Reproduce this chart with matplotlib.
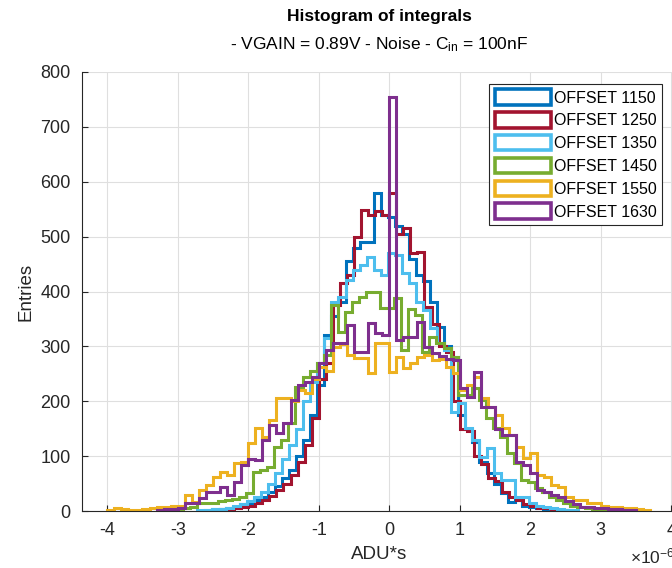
import numpy as np
import matplotlib.pyplot as plt

plt.rcParams['font.family'] = ['Liberation Sans', 'DejaVu Sans']
plt.rcParams['mathtext.fontset'] = 'custom'
plt.rcParams['mathtext.rm'] = 'Liberation Sans'
plt.rcParams['mathtext.it'] = 'Liberation Sans'
plt.rcParams['axes.unicode_minus'] = False

# bin width of every histogram [x1e-6 ADU*s]
bin_w = 0.1

labels = ["OFFSET 1150", "OFFSET 1250", "OFFSET 1350",
          "OFFSET 1450", "OFFSET 1550", "OFFSET 1630"]
colors = ["#0072BD", "#A2142F", "#4DBEEE", "#77AC30", "#EDB120", "#7E2F8E"]

# left edge of first bin per series
starts = [-2.62, -2.5, -2.72, -3.03, -4.0, -3.3]

counts_1150 = [2, 3, 4, 6, 8, 12, 15, 20, 25, 35, 45, 60, 75, 100, 130, 175,
               230, 320, 355, 380, 455, 480, 490, 490, 580, 540, 535, 520,
               505, 460, 430, 420, 380, 335, 300, 280, 175, 150, 125, 90, 70,
               50, 33, 16, 20, 10, 8, 5, 4, 2, 2, 1]
counts_1250 = [2, 3, 3, 5, 7, 10, 14, 20, 28, 38, 50, 65, 90, 120, 170, 240,
               270, 375, 415, 430, 500, 548, 540, 546, 540, 580, 505, 515,
               470, 472, 372, 340, 300, 290, 200, 150, 145, 100, 85, 60, 55,
               35, 25, 20, 12, 10, 6, 5, 3, 2, 1]
counts_1350 = [1, 2, 3, 4, 6, 9, 12, 18, 25, 35, 50, 70, 95, 120, 150, 200,
               235, 270, 315, 381, 390, 421, 439, 448, 462, 439, 430, 470,
               466, 433, 415, 381, 366, 333, 306, 293, 180, 196, 151, 130,
               98, 115, 69, 56, 56, 25, 25, 15, 10, 8, 5, 3, 2, 1]
counts_1450 = [3, 5, 8, 14, 14, 14, 18, 20, 22, 26, 33, 71, 75, 80, 117, 129,
               160, 226, 244, 255, 270, 284, 375, 326, 362, 381, 390, 399,
               399, 370, 370, 388, 293, 368, 357, 290, 317, 306, 297, 281,
               211, 211, 224, 202, 169, 151, 135, 105, 87, 56, 53, 42, 35,
               26, 20, 15, 10, 7, 5, 3, 2]
counts_1550 = [2, 5, 4, 2, 2, 3, 5, 7, 8, 9, 10, 29, 16, 38, 47, 62, 71, 66,
               87, 89, 124, 151, 135, 166, 206, 206, 200, 220, 215, 240, 262,
               255, 299, 304, 284, 279, 279, 251, 306, 306, 253, 281, 260,
               270, 281, 284, 275, 277, 262, 251, 220, 229, 244, 206, 190,
               175, 151, 138, 117, 97, 105, 66, 62, 47, 44, 25, 20, 20, 14,
               14, 10, 7, 7, 5, 5, 3, 2]
counts_1630 = [2, 3, 4, 5, 14, 14, 24, 35, 35, 44, 29, 53, 84, 95, 93, 129,
               157, 142, 160, 202, 229, 235, 244, 270, 293, 306, 306, 339,
               290, 290, 342, 324, 321, 755, 311, 317, 317, 344, 299, 288,
               282, 277, 275, 224, 208, 253, 190, 190, 150, 138, 138, 89, 84,
               69, 38, 35, 29, 26, 18, 12, 8, 7, 6, 5, 4, 3, 2, 1]

all_counts = [counts_1150, counts_1250, counts_1350,
              counts_1450, counts_1550, counts_1630]


def main() -> None:
    fig = plt.figure(figsize=(6.72, 5.68), dpi=100)
    ax = fig.add_axes([81.5 / 672, 57 / 568, 595 / 672, 439 / 568])

    handles = []
    for cnt, x0, col, lab in zip(all_counts, starts, colors, labels):
        edges = x0 + bin_w * np.arange(len(cnt) + 1)
        ax.stairs(cnt, edges, color=col, lw=2.2)
        handles.append(plt.Rectangle((0, 0), 1, 1, facecolor="white",
                                     edgecolor=col, lw=2.6, label=lab))

    ax.set_xlim(-4.365, 4.075)
    ax.set_ylim(0, 800)
    ax.set_xticks(np.arange(-4, 5, 1))
    ax.set_yticks(np.arange(0, 801, 100))
    ax.grid(True, color="#dfdfdf", lw=0.8)
    ax.set_axisbelow(True)
    for s in ["top", "right"]:
        ax.spines[s].set_visible(False)
    for s in ["left", "bottom"]:
        ax.spines[s].set_color("#262626")
    ax.tick_params(direction="in", length=4, labelsize=13, colors="#262626",
                   pad=8)
    ax.set_xlabel("ADU*s", fontsize=13.5, color="#262626", labelpad=5)
    ax.set_ylabel("Entries", fontsize=13.5, color="#262626", labelpad=4)

    fig.text(379 / 672, 1 - 17 / 568, "Histogram of integrals",
             ha="center", va="center", fontsize=12.5, fontweight="bold")
    fig.text(379 / 672, 1 - 45 / 568,
             r"- VGAIN = 0.89V - Noise - C$_{\mathrm{in}}$ = 100nF",
             ha="center", va="center", fontsize=12.5)
    fig.text(630 / 672, 1 - 556 / 568, r"$\times10^{-6}$",
             ha="left", va="center", fontsize=12.5, color="#262626")

    leg = ax.legend(handles=handles, loc="upper right",
                    bbox_to_anchor=(0.976, 0.973), fontsize=11.5,
                    handlelength=3.5, handleheight=1.1, handletextpad=0.2,
                    labelspacing=0.42, borderpad=0.35, borderaxespad=0,
                    fancybox=False, framealpha=1)
    leg.get_frame().set_edgecolor("#262626")
    leg.get_frame().set_linewidth(0.8)

    fig.savefig("out.png", dpi=100)


if __name__ == "__main__":
    main()
